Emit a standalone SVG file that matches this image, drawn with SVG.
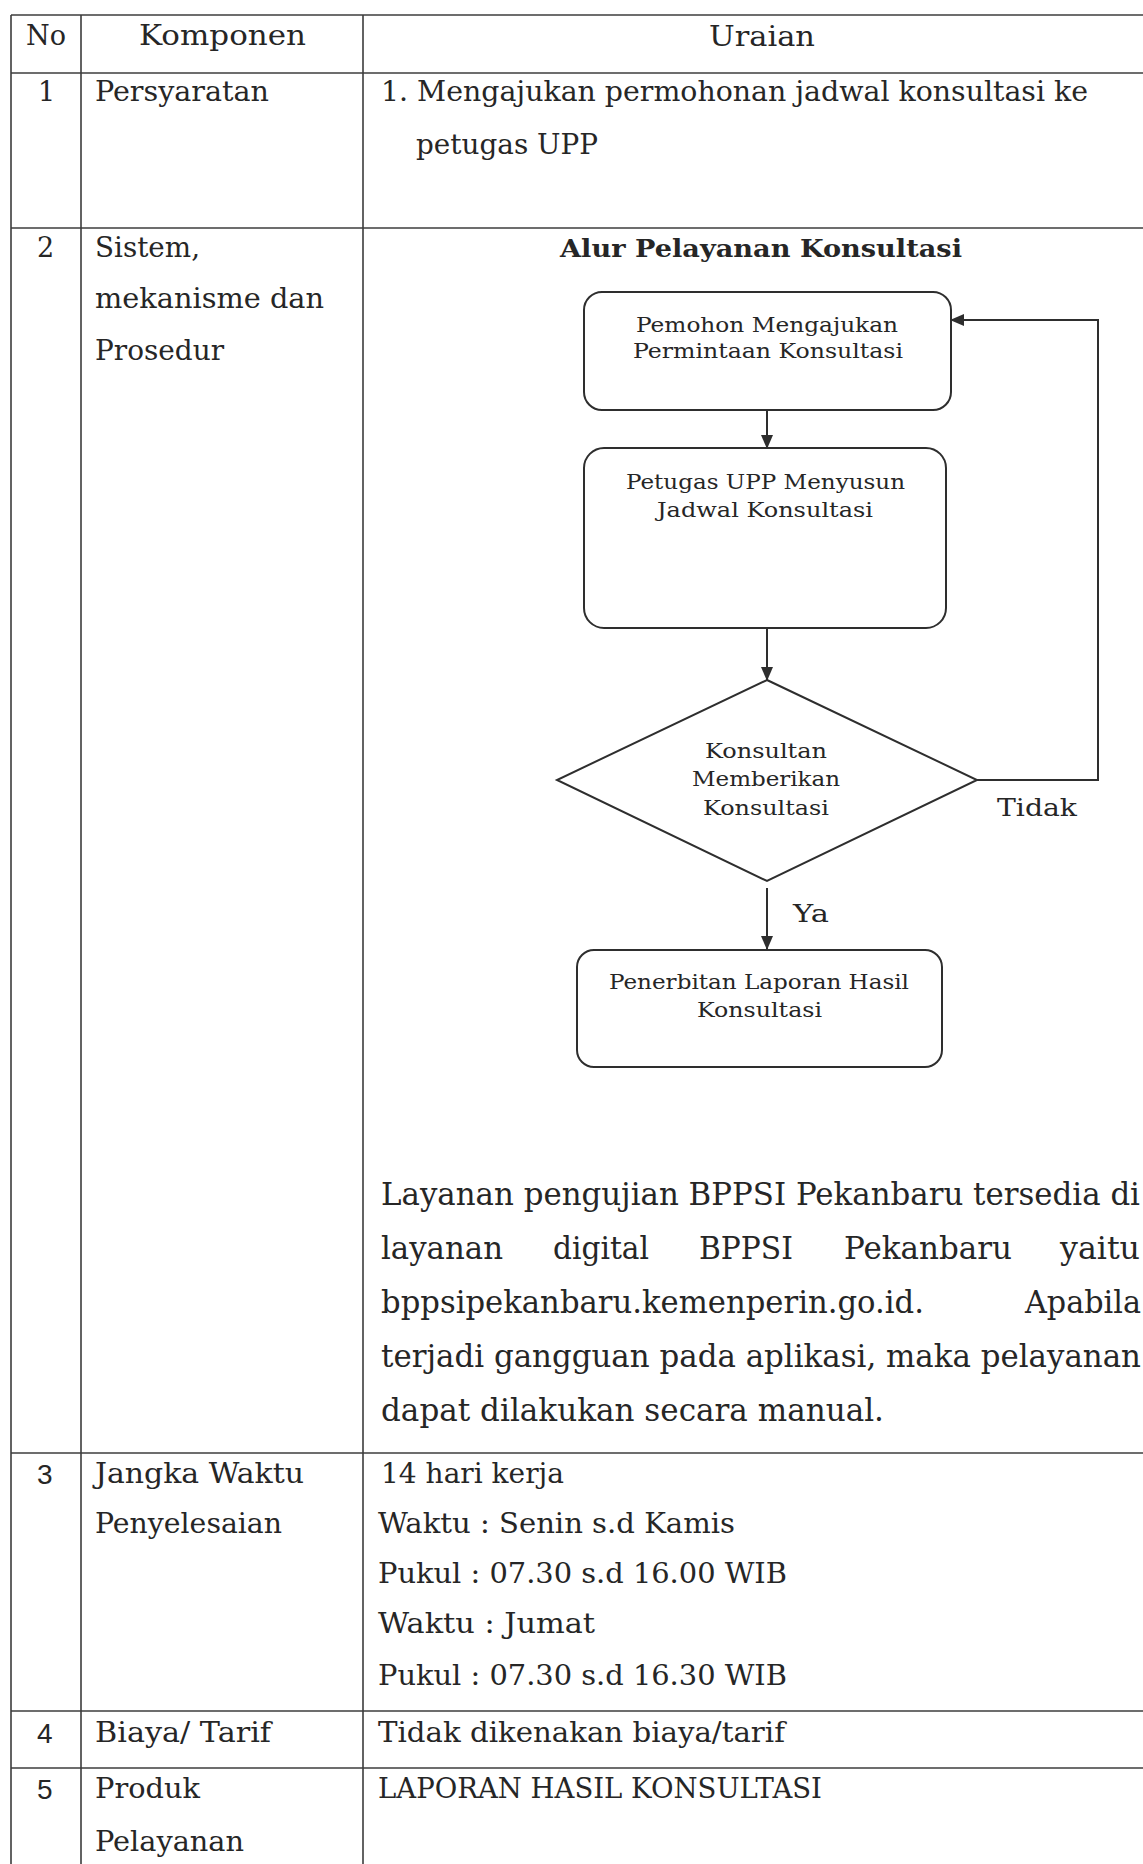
<svg xmlns="http://www.w3.org/2000/svg" width="1143" height="1864" viewBox="0 0 1143 1864">
<defs>
<style>
.grid{stroke:#3c3c3c;stroke-width:1.6;fill:none}
.t{font-family:"DejaVu Serif","Liberation Serif",serif;font-size:27px;fill:#262626}
.p{font-family:"DejaVu Serif","Liberation Serif",serif;font-size:31px;fill:#262626}
.f{font-family:"DejaVu Serif","Liberation Serif",serif;font-size:21px;fill:#262626}
.lbl{font-family:"DejaVu Serif","Liberation Serif",serif;font-size:25px;fill:#262626}
.num{font-family:"Liberation Sans",Arial,sans-serif;font-size:28px;fill:#262626}
.title{font-family:"DejaVu Serif","Liberation Serif",serif;font-size:25px;font-weight:bold;fill:#262626}
.box{fill:#fff;stroke:#2e2e2e;stroke-width:2}
.conn{fill:none;stroke:#2e2e2e;stroke-width:2}
</style>
<marker id="ah" markerUnits="userSpaceOnUse" markerWidth="14" markerHeight="12" refX="13" refY="6" orient="auto">
<path d="M0,0 L14,6 L0,12 z" fill="#2e2e2e"/>
</marker>
</defs>
<rect width="1143" height="1864" fill="#fff"/>

<g id="table-grid" class="grid">
<line x1="11" y1="15" x2="1143" y2="15"/>
<line x1="11" y1="73" x2="1143" y2="73"/>
<line x1="11" y1="228" x2="1143" y2="228"/>
<line x1="11" y1="1453" x2="1143" y2="1453"/>
<line x1="11" y1="1711" x2="1143" y2="1711"/>
<line x1="11" y1="1768" x2="1143" y2="1768"/>
<line x1="11" y1="15" x2="11" y2="1864"/>
<line x1="81" y1="15" x2="81" y2="1864"/>
<line x1="363" y1="15" x2="363" y2="1864"/>
</g>

<g id="header">
<text class="t" x="26" y="45" textLength="40" lengthAdjust="spacingAndGlyphs">No</text>
<text class="t" x="139" y="45" textLength="167" lengthAdjust="spacingAndGlyphs">Komponen</text>
<text class="t" x="709" y="46" textLength="106" lengthAdjust="spacingAndGlyphs">Uraian</text>
</g>

<g id="row1">
<text class="t" x="38" y="101">1</text>
<text class="t" x="95" y="101" textLength="174" lengthAdjust="spacingAndGlyphs">Persyaratan</text>
<text class="t" x="381" y="101" textLength="707" lengthAdjust="spacingAndGlyphs">1. Mengajukan permohonan jadwal konsultasi ke</text>
<text class="t" x="416" y="154" textLength="182" lengthAdjust="spacingAndGlyphs">petugas UPP</text>
</g>

<g id="row2">
<text class="t" x="37" y="257">2</text>
<text class="t" x="95" y="257" textLength="105" lengthAdjust="spacingAndGlyphs">Sistem,</text>
<text class="t" x="95" y="308" textLength="229" lengthAdjust="spacingAndGlyphs">mekanisme dan</text>
<text class="t" x="95" y="360" textLength="129" lengthAdjust="spacingAndGlyphs">Prosedur</text>
<text class="title" x="560" y="257" textLength="402" lengthAdjust="spacingAndGlyphs">Alur Pelayanan Konsultasi</text>
</g>

<g id="connectors">
<line class="conn" x1="767" y1="410" x2="767" y2="448" marker-end="url(#ah)"/>
<line class="conn" x1="767" y1="628" x2="767" y2="680" marker-end="url(#ah)"/>
<line class="conn" x1="767" y1="888" x2="767" y2="949" marker-end="url(#ah)"/>
<polyline class="conn" points="977,780 1098,780 1098,320 951,320" marker-end="url(#ah)"/>
<text class="lbl" x="997" y="816" textLength="80" lengthAdjust="spacingAndGlyphs">Tidak</text>
<text class="lbl" x="793" y="922" textLength="36" lengthAdjust="spacingAndGlyphs">Ya</text>
</g>

<g id="node-pemohon">
<rect class="box" x="584" y="292" width="367" height="118" rx="18" ry="18"/>
<text class="f" x="636" y="332" textLength="262" lengthAdjust="spacingAndGlyphs">Pemohon Mengajukan</text>
<text class="f" x="633" y="358" textLength="270" lengthAdjust="spacingAndGlyphs">Permintaan Konsultasi</text>
</g>

<g id="node-petugas">
<rect class="box" x="584" y="448" width="362" height="180" rx="20" ry="20"/>
<text class="f" x="626" y="489" textLength="279" lengthAdjust="spacingAndGlyphs">Petugas UPP Menyusun</text>
<text class="f" x="657" y="517" textLength="216" lengthAdjust="spacingAndGlyphs">Jadwal Konsultasi</text>
</g>

<g id="node-konsultan">
<polygon class="box" points="767,680 977,780 767,881 557,780"/>
<text class="f" x="705" y="758" textLength="122" lengthAdjust="spacingAndGlyphs">Konsultan</text>
<text class="f" x="692" y="786" textLength="148" lengthAdjust="spacingAndGlyphs">Memberikan</text>
<text class="f" x="703" y="815" textLength="126" lengthAdjust="spacingAndGlyphs">Konsultasi</text>
</g>

<g id="node-penerbitan">
<rect class="box" x="577" y="950" width="365" height="117" rx="17" ry="17"/>
<text class="f" x="609" y="989" textLength="300" lengthAdjust="spacingAndGlyphs">Penerbitan Laporan Hasil</text>
<text class="f" x="697" y="1017" textLength="125" lengthAdjust="spacingAndGlyphs">Konsultasi</text>
</g>

<g id="paragraph">
<text class="p" x="381" y="1205" textLength="759" lengthAdjust="spacingAndGlyphs">Layanan pengujian BPPSI Pekanbaru tersedia di</text>
<text class="p" x="381" y="1259" textLength="122" lengthAdjust="spacingAndGlyphs">layanan</text>
<text class="p" x="553" y="1259" textLength="96" lengthAdjust="spacingAndGlyphs">digital</text>
<text class="p" x="699" y="1259" textLength="94" lengthAdjust="spacingAndGlyphs">BPPSI</text>
<text class="p" x="844" y="1259" textLength="168" lengthAdjust="spacingAndGlyphs">Pekanbaru</text>
<text class="p" x="1060" y="1259" textLength="80" lengthAdjust="spacingAndGlyphs">yaitu</text>
<text class="p" x="381" y="1313" textLength="543" lengthAdjust="spacingAndGlyphs">bppsipekanbaru.kemenperin.go.id.</text>
<text class="p" x="1025" y="1313" textLength="116" lengthAdjust="spacingAndGlyphs">Apabila</text>
<text class="p" x="381" y="1367" textLength="760" lengthAdjust="spacingAndGlyphs">terjadi gangguan pada aplikasi, maka pelayanan</text>
<text class="p" x="381" y="1421" textLength="503" lengthAdjust="spacingAndGlyphs">dapat dilakukan secara manual.</text>
</g>

<g id="row3">
<text class="num" x="37" y="1484">3</text>
<text class="t" x="95" y="1483" textLength="209" lengthAdjust="spacingAndGlyphs">Jangka Waktu</text>
<text class="t" x="95" y="1533" textLength="187" lengthAdjust="spacingAndGlyphs">Penyelesaian</text>
<text class="t" x="381" y="1483" textLength="183" lengthAdjust="spacingAndGlyphs">14 hari kerja</text>
<text class="t" x="378" y="1533" textLength="357" lengthAdjust="spacingAndGlyphs">Waktu : Senin s.d Kamis</text>
<text class="t" x="378" y="1583" textLength="409" lengthAdjust="spacingAndGlyphs">Pukul : 07.30 s.d 16.00 WIB</text>
<text class="t" x="378" y="1633" textLength="217" lengthAdjust="spacingAndGlyphs">Waktu : Jumat</text>
<text class="t" x="378" y="1685" textLength="409" lengthAdjust="spacingAndGlyphs">Pukul : 07.30 s.d 16.30 WIB</text>
</g>

<g id="row4">
<text class="num" x="37" y="1743">4</text>
<text class="t" x="95" y="1742" textLength="176" lengthAdjust="spacingAndGlyphs">Biaya/ Tarif</text>
<text class="t" x="378" y="1742" textLength="407" lengthAdjust="spacingAndGlyphs">Tidak dikenakan biaya/tarif</text>
</g>

<g id="row5">
<text class="num" x="37" y="1799">5</text>
<text class="t" x="95" y="1798" textLength="105" lengthAdjust="spacingAndGlyphs">Produk</text>
<text class="t" x="95" y="1851" textLength="149" lengthAdjust="spacingAndGlyphs">Pelayanan</text>
<text class="t" x="378" y="1798" textLength="444" lengthAdjust="spacingAndGlyphs">LAPORAN HASIL KONSULTASI</text>
</g>
</svg>
